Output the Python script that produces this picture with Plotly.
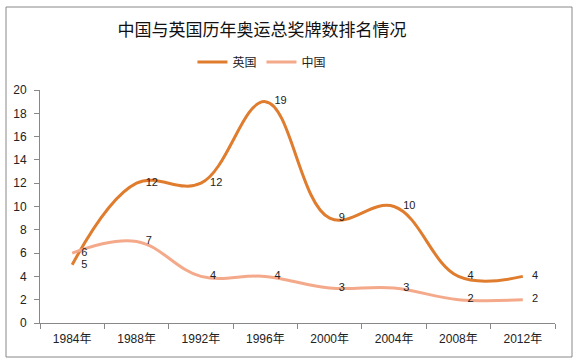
import plotly.graph_objects as go

years = ["1984年", "1988年", "1992年", "1996年", "2000年", "2004年", "2008年", "2012年"]
uk = [5, 12, 12, 19, 9, 10, 4, 4]
china = [6, 7, 4, 4, 3, 3, 2, 2]

font_family = "Liberation Sans, Noto Sans CJK SC, sans-serif"

fig = go.Figure()
fig.add_trace(go.Scatter(
    x=years, y=uk, name="英国", mode="lines+text",
    line=dict(color="#DF7C2E", width=3, shape="spline", smoothing=1.1),
    text=["   " + str(v) for v in uk], textposition="middle right",
    textfont=dict(size=11, color="#222222", family=font_family),
))
fig.add_trace(go.Scatter(
    x=years, y=china, name="中国", mode="lines+text",
    line=dict(color="#F4A98A", width=3, shape="spline", smoothing=1.1),
    text=["   " + str(v) for v in china], textposition="middle right",
    textfont=dict(size=11, color="#222222", family=font_family),
))

fig.update_layout(
    width=578, height=364,
    margin=dict(l=40, r=578 - 555, t=90, b=364 - 323),
    paper_bgcolor="white", plot_bgcolor="white",
    font=dict(family=font_family, color="#222222", size=12),
    title=dict(text="中国与英国历年奥运总奖牌数排名情况", x=262 / 578, xanchor="center",
               y=1 - 30 / 364, yanchor="middle",
               font=dict(size=17, color="#111111", family="Noto Sans CJK SC, sans-serif")),
    legend=dict(orientation="h", x=0.431, xanchor="center", y=1.12, yanchor="middle",
                font=dict(size=12, family="Noto Sans CJK SC, sans-serif"),
                itemwidth=30, bgcolor="rgba(0,0,0,0)"),
    showlegend=True,
    xaxis=dict(type="category", range=[-0.5, 7.5], tickson="boundaries",
               showline=True, linecolor="#888888", linewidth=1,
               ticks="outside", ticklen=5, tickcolor="#888888",
               showgrid=False, zeroline=False, ticklabelstandoff=5,
               tickfont=dict(size=12, family=font_family)),
    yaxis=dict(range=[0, 20], dtick=2, showline=True, linecolor="#888888", linewidth=1,
               ticks="outside", ticklen=5, tickcolor="#888888",
               showgrid=False, zeroline=False, ticklabelstandoff=5,
               tickfont=dict(size=12, family=font_family)),
    shapes=[dict(type="rect", xref="paper", yref="paper",
                 x0=(6 - 40) / 515, x1=(572 - 40) / 515,
                 y0=(323 - 357) / 233, y1=(323 - 7) / 233,
                 line=dict(color="#888888", width=1), layer="below")],
)

fig.write_html("out.html", config={"displayModeBar": False},
               post_script="document.body.style.margin='0';")
